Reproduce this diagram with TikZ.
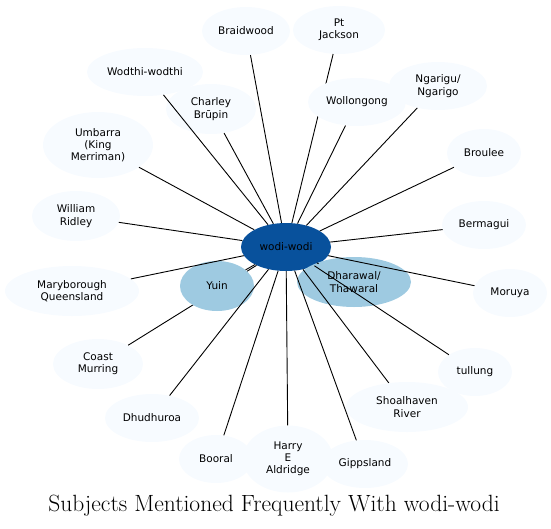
\documentclass[tikz,border=0pt]{standalone}
\usepackage{fontspec}
\newfontfamily\dejavu{DejaVu Sans}
\usetikzlibrary{shapes.geometric}
\definecolor{palebg}{HTML}{F7FBFF}
\definecolor{midblue}{HTML}{9ECAE1}
\definecolor{hubblue}{HTML}{08519C}
\tikzset{
  subj/.style={ellipse, fill=palebg, inner sep=0pt, align=center,
    font=\dejavu\fontsize{10.5}{12.2}\selectfont},
  near/.style={subj, fill=midblue},
  hub/.style={subj, fill=hubblue},
  link/.style={line width=0.9pt}
}
\begin{document}
\begin{tikzpicture}[x=1pt,y=-1pt]
\useasboundingbox (0,0) rectangle (551,528);

	\node[hub, minimum width=90pt, minimum height=48pt] (wodi) at (286,247){wodi-wodi};

	\node[subj, minimum width=88pt, minimum height=48pt] (braidwood) at (246,31){Braidwood};
	\node[subj, minimum width=92pt, minimum height=48pt] (ptjackson) at (339,30){Pt\\Jackson};
	\node[subj, minimum width=116pt, minimum height=48pt] (wodthi) at (145,72){Wodthi-wodthi};
	\node[subj, minimum width=90pt, minimum height=50pt] (charley) at (211,109){Charley\\Brūpin};
	\node[subj, minimum width=98pt, minimum height=48pt] (ngarigu) at (438,86){Ngarigu/\\Ngarigo};
	\node[subj, minimum width=110pt, minimum height=66pt] (umbarra) at (98,145){Umbarra\\(King\\Merriman)};
	\node[subj, minimum width=74pt, minimum height=48pt] (broulee) at (484,153){Broulee};
	\node[subj, minimum width=88pt, minimum height=50pt] (ridley) at (76,216){William\\Ridley};
	\node[subj, minimum width=84pt, minimum height=48pt] (bermagui) at (484,225){Bermagui};
	\node[subj, minimum width=134pt, minimum height=50pt] (maryborough) at (72,291){Maryborough\\Queensland};
	\node[subj, minimum width=74pt, minimum height=48pt] (moruya) at (510,293){Moruya};
	\node[subj, minimum width=90pt, minimum height=50pt] (coast) at (98,364){Coast\\Murring};
	\node[subj, minimum width=74pt, minimum height=48pt] (tullung) at (475,372){tullung};
	\node[subj, minimum width=94pt, minimum height=48pt] (dhudhuroa) at (152,418){Dhudhuroa};
	\node[subj, minimum width=122pt, minimum height=50pt] (shoalhaven) at (407,407){Shoalhaven\\River};
	\node[subj, minimum width=74pt, minimum height=48pt] (booral) at (216,459){Booral};
	\node[subj, minimum width=90pt, minimum height=67pt] (harry) at (288,459){Harry\\E\\Aldridge};
	\node[subj, minimum width=86pt, minimum height=48pt] (gippsland) at (365,464){Gippsland};

	% these two run under Wollongong and Yuin
	\draw[link] (wodi) -- (ptjackson);
	\draw[link] (wodi) -- (coast);

	\node[subj, minimum width=98pt, minimum height=48pt] (wollongong) at (357,102){Wollongong};
	\node[near, minimum width=74pt, minimum height=50pt] (yuin) at (217,286){Yuin};
	\node[near, minimum width=114pt, minimum height=50pt] (dharawal) at (354,282){Dharawal/\\Thawaral};

	\foreach \n in {braidwood,wodthi,charley,wollongong,ngarigu,umbarra,broulee,
	  ridley,bermagui,maryborough,yuin,dharawal,moruya,tullung,dhudhuroa,
	  shoalhaven,booral,harry,gippsland}
	  \draw[link] (wodi) -- (\n);

	\node[anchor=base, font=\fontsize{23.5}{28}\selectfont] (title) at (274,511){Subjects Mentioned Frequently With wodi-wodi};

\end{tikzpicture}
\end{document}
